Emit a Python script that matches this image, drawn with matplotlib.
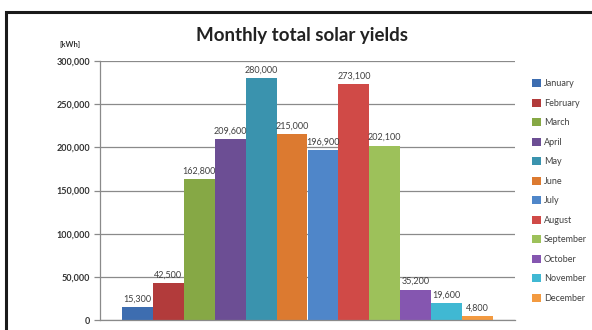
import matplotlib.pyplot as plt
from matplotlib.patches import Patch, Rectangle
from matplotlib.ticker import FuncFormatter

months = ["January", "February", "March", "April", "May", "June",
          "July", "August", "September", "October", "November", "December"]
yields_kwh = [15300, 42500, 162800, 209600, 280000, 215000,
              196900, 273100, 202100, 35200, 19600, 4800]
colors = ["#3D6DB0", "#B23B3B", "#86A845", "#6C4E94", "#3A93AE", "#DC7A30",
          "#4F86C9", "#D04A47", "#9DC15A", "#8556B0", "#40B8D3", "#F39A40"]

plt.rcParams['font.family'] = ['Lato', 'DejaVu Sans']
W, H = 592, 330
fig = plt.figure(figsize=(W / 100, H / 100), dpi=100)

# plot area in pixel terms
x0, x1, ytop, ybot = 100, 515, 61, 320
ax = fig.add_axes([x0 / W, (H - ybot) / H, (x1 - x0) / W, (ybot - ytop) / H])

for i, (m, v, c) in enumerate(zip(months, yields_kwh, colors)):
    ax.bar(i, v, width=1.0, color=c, label=m, zorder=2)
    ax.text(i, v + 4000, f"{v:,}", ha='center', va='bottom',
            fontsize=6.5, color='#404040', zorder=3)

ax.set_xlim(-0.5 - 0.71, 11.5 + 0.71)
ax.set_ylim(0, 300000)
ax.set_yticks(range(0, 300001, 50000))
ax.yaxis.set_major_formatter(FuncFormatter(lambda v, p: f"{int(v):,}"))
ax.set_xticks([])
ax.grid(axis='y', color='#8a8a8a', linewidth=0.9, zorder=0)
ax.tick_params(axis='y', length=4, width=0.9, color='#8a8a8a',
               labelsize=6.5, labelcolor='#333333', pad=3)
for lbl in ax.get_yticklabels():
    lbl.set_fontweight('bold')
for side in ['top', 'right']:
    ax.spines[side].set_visible(False)
for side in ['left', 'bottom']:
    ax.spines[side].set_color('#8a8a8a')
    ax.spines[side].set_linewidth(0.9)

fig.text(302 / W, 1 - 35 / H, "Monthly total solar yields", ha='center',
         va='center', fontsize=13.5, fontweight='bold', color='#222222')
fig.text(70 / W, 1 - 45 / H, "[kWh]", ha='center', va='center',
         fontsize=5.5, fontweight='bold', color='#333333')

handles = [Patch(facecolor=c, edgecolor='none', label=m)
           for m, c in zip(months, colors)]
fig.legend(handles=handles, loc='upper left',
           bbox_to_anchor=(524 / W, 1 - 71 / H), frameon=False,
           fontsize=6.5, labelcolor='#404040', handlelength=1.0,
           handleheight=1.0, handletextpad=0.3, labelspacing=1.15)

# outer frame of the chart object
fig.patches.append(Rectangle((6 / W, -0.1), 1.2, 1.1 - 12 / H,
                             transform=fig.transFigure, fill=False,
                             edgecolor='#1a1a1a', linewidth=2.2))

fig.savefig("out.png", dpi=100)
